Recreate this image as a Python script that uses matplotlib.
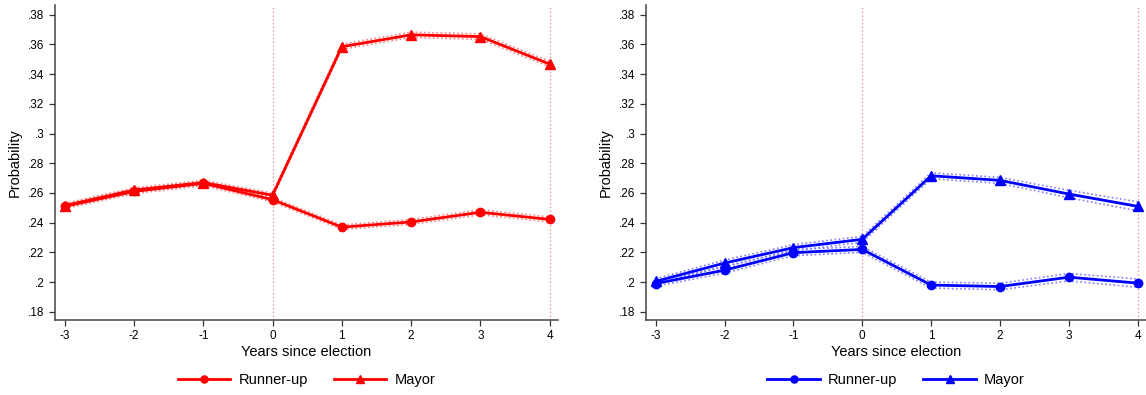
import matplotlib
matplotlib.use('Agg')
import matplotlib.pyplot as plt

plt.rcParams['font.family'] = ['Liberation Sans', 'DejaVu Sans']

years = [-3, -2, -1, 0, 1, 2, 3, 4]
y_ticks = [0.18, 0.20, 0.22, 0.24, 0.26, 0.28, 0.30, 0.32, 0.34, 0.36, 0.38]

# left panel (red)
runner_red = [0.251, 0.261, 0.2665, 0.2555, 0.237, 0.2405, 0.247, 0.2422]
mayor_red = [0.2515, 0.262, 0.267, 0.2585, 0.3585, 0.3665, 0.3653, 0.3468]
ci_runner_red = [0.0015, 0.0015, 0.0015, 0.0015, 0.0015, 0.0017, 0.0017, 0.0017]
ci_mayor_red = [0.0015, 0.0015, 0.0015, 0.0015, 0.0017, 0.0018, 0.0018, 0.0018]

# right panel (blue)
runner_blue = [0.199, 0.208, 0.2198, 0.222, 0.198, 0.197, 0.2033, 0.1993]
mayor_blue = [0.2005, 0.2128, 0.2232, 0.2288, 0.2716, 0.2685, 0.2593, 0.2510]
ci_runner_blue = [0.0018, 0.0020, 0.0020, 0.0020, 0.0020, 0.0022, 0.0025, 0.0028]
ci_mayor_blue = [0.0018, 0.0020, 0.0020, 0.0020, 0.0020, 0.0020, 0.0025, 0.0030]


def fmt_tick(v):
    s = f"{v:.2f}".rstrip("0").rstrip(".")
    return s[1:] if s.startswith("0") else s


def draw_panel(ax, runner, mayor, ci_r, ci_m, color, light):
    for x in (0, 4):
        ax.axvline(x, color='#f08090', lw=0.9, ls=(0, (1, 2)), zorder=1)
    for vals, ci in ((runner, ci_r), (mayor, ci_m)):
        lo = [v - c for v, c in zip(vals, ci)]
        hi = [v + c for v, c in zip(vals, ci)]
        ax.plot(years, lo, color=light, lw=1.2, ls=(0, (1, 1.5)), zorder=2)
        ax.plot(years, hi, color=light, lw=1.2, ls=(0, (1, 1.5)), zorder=2)
    ax.plot(years, runner, color=color, lw=2, marker='o', ms=6,
            label='Runner-up', zorder=3)
    ax.plot(years, mayor, color=color, lw=2, marker='^', ms=6.5,
            label='Mayor', zorder=3)
    ax.set_xlim(-3.14, 4.12)
    ax.set_ylim(0.1745, 0.3865)
    ax.set_xticks(years)
    ax.set_xticklabels([str(y) for y in years])
    ax.set_yticks(y_ticks)
    ax.set_yticklabels([fmt_tick(v) for v in y_ticks])
    ax.tick_params(labelsize=8.5, length=4, width=0.9, color='#333333')
    for side in ('top', 'right'):
        ax.spines[side].set_visible(False)
    for side in ('left', 'bottom'):
        ax.spines[side].set_color('#444444')
        ax.spines[side].set_linewidth(1.1)
    ax.set_xlabel('Years since election', fontsize=10.5, labelpad=2)
    ax.set_ylabel('Probability', fontsize=10.5, labelpad=5)
    ax.legend(loc='center', bbox_to_anchor=(0.5, -0.19), ncol=2,
              frameon=False, fontsize=10.5, handlelength=3.6,
              handletextpad=0.55, columnspacing=1.8, markerscale=0.85)


fig = plt.figure(figsize=(11.46, 3.95), dpi=100)
ax1 = fig.add_axes([55 / 1146, 0.19, 503 / 1146, 0.797])
ax2 = fig.add_axes([646 / 1146, 0.19, 500 / 1146, 0.797])

draw_panel(ax1, runner_red, mayor_red, ci_runner_red, ci_mayor_red,
           '#ff0000', '#ff8080')
draw_panel(ax2, runner_blue, mayor_blue, ci_runner_blue, ci_mayor_blue,
           '#0000ff', '#8080ff')

fig.savefig('out.png', dpi=100, facecolor='w')
